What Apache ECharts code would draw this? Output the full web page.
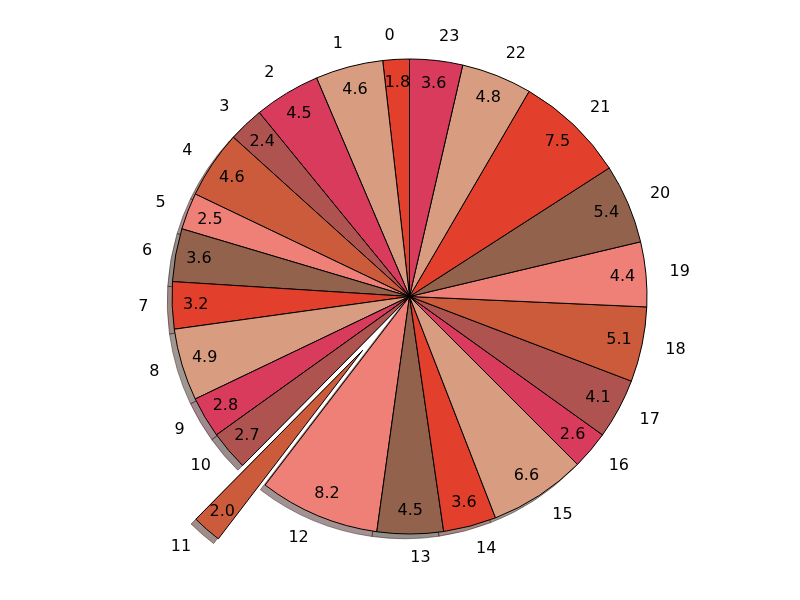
<!DOCTYPE html>
<html>
<head>
<meta charset="utf-8">
<script src="https://cdn.jsdelivr.net/npm/echarts@6/dist/echarts.min.js"></script>
<style>html,body{margin:0;padding:0;background:#fff}#c{width:800px;height:600px}</style>
</head>
<body>
<div id="c"></div>
<script>
const categories = ['0','1','2','3','4','5','6','7','8','9','10','11','12','13','14','15','16','17','18','19','20','21','22','23'];
const values = [1.8,4.6,4.5,2.4,4.6,2.5,3.6,3.2,4.9,2.8,2.7,2.0,8.2,4.5,3.6,6.6,2.6,4.1,5.1,4.4,5.4,7.5,4.8,3.6];
const palette = ['#E2402C','#D89C80','#D83B5C','#AF5350','#CB5B3A','#EE8077','#93624D'];
const explodedIndex = 11;

const CX = 409.5, CY = 296.5, R = 237.5;
const EXPLODE = 0.3 * R;
const SH = 4.75;

function hexToRgb(h){h=h.replace('#','');return [parseInt(h.substr(0,2),16),parseInt(h.substr(2,2),16),parseInt(h.substr(4,2),16)];}
function shadowColor(h){const c=hexToRgb(h);return 'rgba('+c.map(v=>Math.round(v*0.3)).join(',')+',0.5)';}

const mainData = values.map((v,i)=>({name:categories[i], value:v, selected:i===explodedIndex,
  itemStyle:{color:palette[i%palette.length]}}));
const shadowData = values.map((v,i)=>({name:categories[i], value:v, selected:i===explodedIndex,
  itemStyle:{color:shadowColor(palette[i%palette.length]), borderColor:shadowColor(palette[i%palette.length]), borderWidth:1}}));
const pctData = values.map((v,i)=>({name:categories[i], value:v, selected:i===explodedIndex}));

const font = {fontFamily:'DejaVu Sans', fontSize:16, color:'#000'};

const common = {type:'pie', clockwise:false, startAngle:90, selectedMode:'single', selectedOffset:EXPLODE,
  avoidLabelOverlap:false, animation:false, emphasis:{disabled:true}, minAngle:0};

const chart = echarts.init(document.getElementById('c'), null, {renderer:'canvas'});
chart.setOption({
  animation:false,
  series:[
    Object.assign({}, common, {
      name:'shadow', z:1, silent:true, center:[CX-SH, CY+SH], radius:[0,R],
      label:{show:false}, labelLine:{show:false},
      select:{itemStyle:{}},
      data:shadowData
    }),
    Object.assign({}, common, {
      name:'main', z:2, silent:true, center:[CX, CY], radius:[0,R],
      itemStyle:{borderColor:'#000', borderWidth:1},
      select:{itemStyle:{borderColor:'#000', borderWidth:1}},
      label:Object.assign({show:true, position:'outside', distanceToLabelLine:0, formatter:'{b}'}, font),
      labelLine:{show:false, length:0.1*R, length2:0},
      data:mainData
    }),
    Object.assign({}, common, {
      name:'pct', z:3, silent:true, center:[CX, CY], radius:[0.776*R, R],
      itemStyle:{color:'rgba(0,0,0,0)', borderWidth:0},
      select:{itemStyle:{color:'rgba(0,0,0,0)', borderWidth:0}},
      label:Object.assign({show:true, position:'inside', formatter:p=>p.value.toFixed(1)}, font),
      labelLine:{show:false},
      data:pctData
    })
  ]
});
</script>
</body>
</html>
